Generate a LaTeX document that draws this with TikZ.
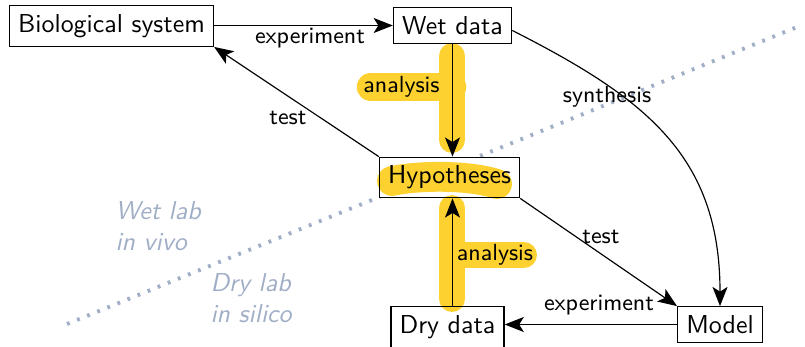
\documentclass[tikz,border=0pt]{standalone}
\usepackage{fontspec}
\usetikzlibrary{arrows.meta,backgrounds}
\definecolor{hl}{RGB}{253,210,48}
\definecolor{zonec}{RGB}{160,174,198}
\begin{document}
\begin{tikzpicture}[x=0.3861pt,y=-0.3861pt,
  box/.style={draw, line width=0.5pt, font=\sffamily, inner sep=3.33pt},
  lbl/.style={font=\sffamily\small, inner sep=1pt},
  arr/.style={-{Stealth[length=7.4pt,width=5.8pt,inset=1.8pt]}, line width=0.45pt},
  hlband/.style={draw=hl, line width=10pt, line cap=round},
  zone/.style={font=\sffamily\itshape, text=zonec, align=left, inner sep=0pt, anchor=north west},
  divider/.style={draw=zonec, line width=1.5pt, dash pattern=on 1.1pt off 3.1pt}]
\useasboundingbox (0,0) rectangle (805,346);

% nodes
\node[box] (bio) at (111.5,26) {Biological system};
\node[box] (wet) at (452.5,25.5) {Wet data};
\node[box] (hyp) at (449.5,177.5) {Hypotheses};
\node[box] (dry) at (447.5,327) {Dry data};
\node[box] (model) at (720,324.5) {Model};

% labels
\node[lbl] (la1) at (401.5,87) {analysis};
\node[lbl] (la2) at (495,255) {analysis};
\node[lbl] (lexp1) at (310,38) {experiment};
\node[lbl] (ltest1) at (288,118) {test};
\node[lbl] (ltest2) at (601,237) {test};
\node[lbl] (lsyn) at (607,97) {synthesis};
\node[lbl] (lexp2) at (599,305) {experiment};

% zones
\node[zone] (wetlab) at (115,201) {Wet lab\\in vivo};
\node[zone] (drylab) at (210,273) {Dry lab\\in silico};

\begin{scope}[on background layer]
  \coordinate (dA) at (67,324);
  \coordinate (dB) at (802,25);
  \draw[divider] (dA) -- (dB);
  \foreach \n in {bio,wet,hyp,dry,model}
    \fill[white] (\n.south west) rectangle (\n.north east);
  % highlights
  \draw[hlband] (452,56) -- (452,140);
  \draw[hlband, line width=11pt] (371,87) -- (452,87);
  \draw[hlband] (452,208) -- (452,299);
  \draw[hlband] (452,255) -- (524,255);
  \draw[hlband, line width=11.5pt] (392,181) .. controls (420,175) and (470,175) .. (497,184);
\end{scope}

% connectors
\draw[arr] (bio.east |- wet.west) -- (wet.west);
\draw[arr] (wet.south) -- (wet.south |- hyp.north);
\draw[arr] (wet.south |- dry.north) -- (wet.south |- hyp.south);
\draw[arr] (hyp.north west) -- (bio.south east);
\draw[arr] (hyp.south east) -- (model.north west);
\draw[arr] ([yshift=-1.9pt]wet.east) .. controls +(134,68) and +(0,-150) .. (model.north);
\draw[arr] (model.west) -- (model.west -| dry.east);
\end{tikzpicture}
\end{document}
